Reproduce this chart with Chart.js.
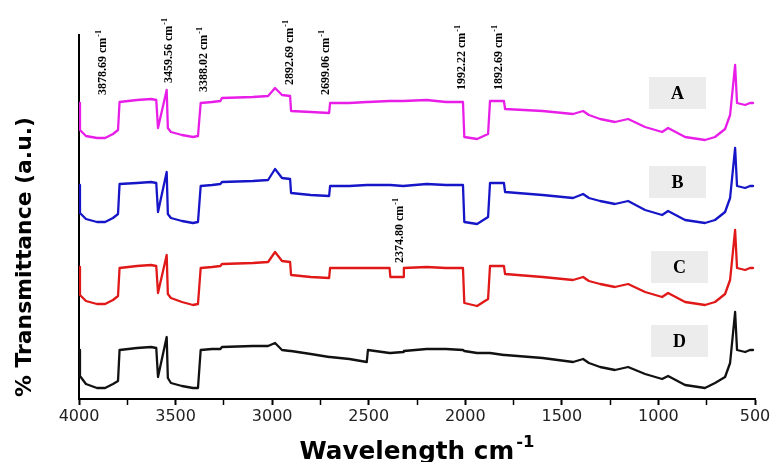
<!DOCTYPE html>
<html>
<head>
<meta charset="utf-8">
<script src="https://cdn.jsdelivr.net/npm/chart.js@4.4.1/dist/chart.umd.min.js"></script>
<style>
  html, body { margin: 0; padding: 0; background: #fff; }
  canvas { display: block; }
</style>
</head>
<body>
<canvas id="ftir" width="772" height="462"></canvas>
<script>
// ---- Data (a.u.) ----
const wavenumbers = [
  4000, 3995, 3964, 3907, 3865, 3824, 3798, 3790, 3700, 3627,
  3600, 3591, 3546, 3540, 3524, 3467, 3410, 3384, 3370, 3311,
  3268, 3260, 3100, 3021, 2985, 2949, 2907, 2902, 2800, 2705,
  2700, 2600, 2510, 2504, 2392, 2388, 2322, 2318, 2200, 2100,
  2012, 2005, 1939, 1882, 1872, 1800, 1794, 1600, 1442, 1390,
  1360, 1302, 1225, 1157, 1069, 981, 950, 862, 759, 707,
  655, 629, 603, 593, 551, 526, 510
];
const seriesA = [
  296, 269, 263, 261, 261, 265, 269, 297, 299, 300,
  299, 271, 309, 271, 267, 264, 262, 263, 296, 297,
  298, 301, 302, 303, 311, 304, 303, 288, 287, 286,
  296, 296, 297, 297, 298, 298, 298, 298, 299, 297,
  297, 262, 260, 265, 298, 298, 290, 288, 285, 288,
  284, 280, 277, 280, 272, 267, 271, 262, 259, 262,
  270, 284, 334, 296, 294, 296, 296
];
const seriesB = [
  214, 186, 180, 177, 177, 181, 185, 215, 216, 217,
  216, 187, 227, 185, 181, 178, 176, 177, 213, 214,
  215, 217, 218, 219, 230, 221, 220, 206, 204, 203,
  213, 213, 214, 214, 214, 214, 213, 213, 215, 214,
  214, 177, 175, 182, 216, 216, 207, 204, 201, 205,
  201, 198, 195, 198, 189, 184, 188, 179, 176, 179,
  187, 201, 251, 213, 211, 213, 213
];
const seriesC = [
  132, 104, 98, 95, 95, 99, 103, 131, 133, 134,
  133, 106, 144, 105, 101, 97, 94, 95, 131, 132,
  133, 135, 136, 137, 147, 138, 137, 124, 122, 121,
  131, 131, 131, 131, 131, 122, 122, 131, 132, 131,
  131, 96, 93, 100, 133, 133, 125, 122, 119, 122,
  118, 115, 112, 115, 107, 102, 106, 97, 94, 97,
  105, 119, 169, 131, 129, 131, 131
];
const seriesD = [
  49, 23, 15, 11, 11, 15, 18, 49, 51, 52,
  51, 22, 62, 21, 16, 13, 11, 11, 49, 50,
  50, 52, 53, 53, 56, 49, 48, 48, 45, 42,
  42, 40, 37, 49, 46, 46, 47, 48, 50, 50,
  49, 48, 46, 46, 46, 44, 44, 41, 37, 40,
  36, 32, 29, 32, 25, 20, 23, 14, 11, 16,
  22, 36, 87, 49, 47, 49, 49
];
const seriesNames = ["A", "B", "C", "D"];
const seriesColors = ["#e81ee8", "#1616c8", "#e01818", "#111111"];

// peak labels: text, wavenumber where it sits, a.u. level of its lower end
const peakLabels = [
  ["3878.69", 3881, 304],
  ["3459.56", 3539, 316],
  ["3388.02", 3358, 307],
  ["2892.69", 2913, 314],
  ["2699.06", 2726, 304],
  ["1992.22", 2022, 309],
  ["1892.69", 1830, 309],
  ["2374.80", 2343, 136],
];

const xTicks = [4000, 3500, 3000, 2500, 2000, 1500, 1000, 500];

// ---- Helpers ----
function toPoints(ys) {
  return wavenumbers.map((x, i) => ({ x, y: ys[i] }));
}

// ---- Overlay: axis titles, peak labels, sample boxes ----
const overlay = {
  id: "overlay",
  afterDraw(chart) {
    const { ctx, scales } = chart;
    const x = scales.x, y = scales.y;
    ctx.save();
    ctx.fillStyle = "#000";

    // peak labels (vertical, bottom to top)
    for (const [txt, wn, at] of peakLabels) {
      const px = x.getPixelForValue(wn);
      const py = y.getPixelForValue(at);
      ctx.save();
      ctx.translate(px, py);
      ctx.rotate(-Math.PI / 2);
      ctx.textAlign = "left";
      ctx.textBaseline = "middle";
      ctx.font = 'bold 12px "Liberation Serif"';
      const main = txt + " cm";
      ctx.fillText(main, 0, 1);
      const w = ctx.measureText(main).width;
      ctx.font = 'bold 8px "Liberation Serif"';
      ctx.fillText("-1", w + 1, -3);
      ctx.restore();
    }

    // sample boxes
    const boxes = [[649, 77], [649, 166], [651, 251], [651, 325]];
    boxes.forEach(([bx, by], i) => {
      ctx.fillStyle = "#ececec";
      ctx.fillRect(bx, by, 57, 32);
      ctx.fillStyle = "#000";
      ctx.font = 'bold 18px "Liberation Serif"';
      ctx.textAlign = "center";
      ctx.textBaseline = "middle";
      ctx.fillText(seriesNames[i], bx + 28.5, by + 17);
    });

    // y title
    ctx.save();
    ctx.translate(26, 257);
    ctx.rotate(-Math.PI / 2);
    ctx.font = 'bold 21px "DejaVu Sans"';
    ctx.textAlign = "center";
    ctx.textBaseline = "middle";
    const yt = "% Transmittance (a.u.)";
    const yw = ctx.measureText(yt).width;
    ctx.scale(280 / yw, 1);
    ctx.fillText(yt, 0, 0);
    ctx.restore();

    // x title
    ctx.save();
    ctx.font = 'bold 24px "DejaVu Sans"';
    const xt = "Wavelength cm";
    const mw = ctx.measureText(xt).width;
    ctx.font = 'bold 16px "DejaVu Sans"';
    const sw = ctx.measureText("-1").width;
    const total = mw + sw + 2;
    const k = 235 / total;
    ctx.translate(417 - 235 / 2, 459);
    ctx.scale(k, 1);
    ctx.textAlign = "left";
    ctx.textBaseline = "alphabetic";
    ctx.font = 'bold 24px "DejaVu Sans"';
    ctx.fillText(xt, 0, 0);
    ctx.font = 'bold 16px "DejaVu Sans"';
    ctx.fillText("-1", mw + 2, -12);
    ctx.restore();

    ctx.restore();
  },
};

// ---- Chart ----
new Chart(document.getElementById("ftir"), {
  type: "line",
  data: {
    datasets: [seriesA, seriesB, seriesC, seriesD].map((ys, i) => ({
      label: seriesNames[i],
      data: toPoints(ys),
      borderColor: seriesColors[i],
      borderWidth: 2.3,
      borderJoinStyle: "round",
      borderCapStyle: "round",
      pointRadius: 0,
      tension: 0,
      fill: false,
    })),
  },
  options: {
    responsive: false,
    animation: false,
    layout: { padding: { top: 35, right: 17, left: 0, bottom: 0 } },
    plugins: { legend: { display: false }, tooltip: { enabled: false } },
    scales: {
      x: {
        type: "linear",
        reverse: true,
        min: 500,
        max: 4000,
        afterFit(s) {
          s.height = 63;
          s.paddingLeft = 0;
          s.paddingRight = 0;
        },
        ticks: {
          stepSize: 250,
          autoSkip: false,
          maxRotation: 0,
          padding: 2,
          color: "#222",
          font: { family: "DejaVu Sans", size: 16 },
          callback: (v) => (xTicks.includes(v) ? String(v) : ""),
        },
        grid: {
          display: true,
          drawOnChartArea: false,
          drawTicks: true,
          tickLength: 6,
          tickColor: "#000",
          tickWidth: (c) => (c.tick && xTicks.includes(c.tick.value) ? 2 : 1.5),
        },
        border: { display: true, color: "#000", width: 2 },
      },
      y: {
        min: 0,
        max: 364,
        afterFit(s) {
          s.width = 79;
        },
        ticks: { display: false },
        grid: { display: false },
        border: { display: true, color: "#000", width: 2 },
      },
    },
  },
  plugins: [overlay],
});
</script>
</body>
</html>
